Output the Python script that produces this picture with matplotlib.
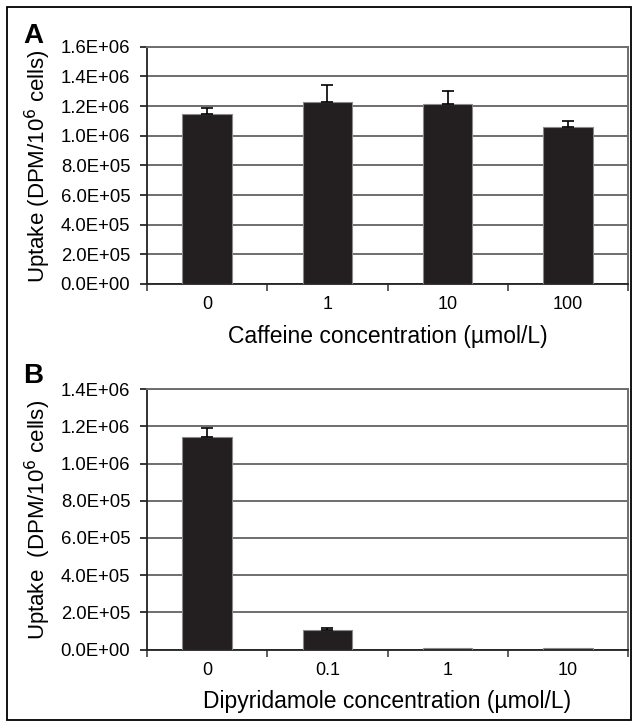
import matplotlib
matplotlib.use("Agg")
import matplotlib.pyplot as plt
from matplotlib.patches import Rectangle
from matplotlib.ticker import FuncFormatter

plt.rcParams['font.family'] = ['Liberation Sans', 'DejaVu Sans']

# Panel A: caffeine
caffeine_conc = ['0', '1', '10', '100']
caffeine_uptake = [1.143e6, 1.228e6, 1.216e6, 1.060e6]
caffeine_err = [0.041e6, 0.116e6, 0.083e6, 0.036e6]

# Panel B: dipyridamole
dipy_conc = ['0', '0.1', '1', '10']
dipy_uptake = [1.145e6, 1.03e5, 8.0e3, 8.0e3]
dipy_err = [0.045e6, 0.011e6, 0.0, 0.0]

W, H = 639, 728
fig = plt.figure(figsize=(W / 100, H / 100), dpi=100)

# outer frame
fig.patches.append(Rectangle((7 / W, 1 - 720 / H), (631 - 7) / W, (720 - 7) / H,
                             transform=fig.transFigure, fill=False,
                             edgecolor='black', linewidth=1.3))

grid_col = '#6e6e6e'


def fy(px):
    return 1 - px / H


def draw_panel(rect, cats, vals, errs, ymax, xlabel, ylabel, letter, letter_y, ylab_y):
    ax = fig.add_axes(rect)
    x = range(len(cats))
    ax.bar(x, vals, width=0.41, color='#231f20', edgecolor='#8a8a8a', linewidth=0.8, zorder=3)
    for xi, v, e in zip(x, vals, errs):
        if e > 0:
            ax.errorbar(xi, v, yerr=[[0], [e]], fmt='none', ecolor='black',
                        elinewidth=1.2, capsize=4.5, capthick=1.2, zorder=4)
    ax.set_xlim(-0.5, len(cats) - 0.5)
    ax.set_ylim(0, ymax)
    ax.set_yticks([i * 2e5 for i in range(int(round(ymax / 2e5)) + 1)])
    ax.yaxis.set_major_formatter(FuncFormatter(lambda v, p: f"{v:.1E}"))
    ax.yaxis.grid(True, color=grid_col, linewidth=1.4, zorder=0)
    ax.set_axisbelow(True)

    ax.set_xticks([i - 0.5 for i in range(len(cats) + 1)])
    ax.set_xticklabels([])
    ax.set_xticks(list(x), minor=True)
    ax.set_xticklabels(cats, minor=True, fontsize=13)
    ax.tick_params(axis='x', which='major', direction='out', length=5, width=1.1, color='#333333')
    ax.tick_params(axis='x', which='minor', length=0, pad=9)
    ax.tick_params(axis='y', direction='out', length=5, width=1.1, labelsize=13.3, pad=7)

    for s in ['left', 'bottom']:
        ax.spines[s].set_color('#222222')
        ax.spines[s].set_linewidth(1.3)
    for s in ['top', 'right']:
        ax.spines[s].set_color(grid_col)
        ax.spines[s].set_linewidth(1.4)

    ax.set_xlabel(xlabel, fontsize=16.5, labelpad=8)
    fig.text(38 / W, fy(ylab_y), ylabel, rotation=90, fontsize=16,
             ha='center', va='center')
    fig.text(33 / W, fy(letter_y), letter, fontsize=20, fontweight='bold',
             ha='center', va='center')
    return ax


left = 147 / W
width = (628 - 147) / W

draw_panel([left, fy(284), width, (284 - 46.7) / H],
           caffeine_conc, caffeine_uptake, caffeine_err, 1.6e6,
           'Caffeine concentration (\u00b5mol/L)',
           'Uptake (DPM/10$^{6}$ cells)', 'A', 36, 166)

draw_panel([left, fy(649.5), width, (649.5 - 389.3) / H],
           dipy_conc, dipy_uptake, dipy_err, 1.4e6,
           'Dipyridamole concentration (\u00b5mol/L)',
           'Uptake  (DPM/10$^{6}$ cells)', 'B', 376, 520)

fig.savefig('out.png', dpi=100)
